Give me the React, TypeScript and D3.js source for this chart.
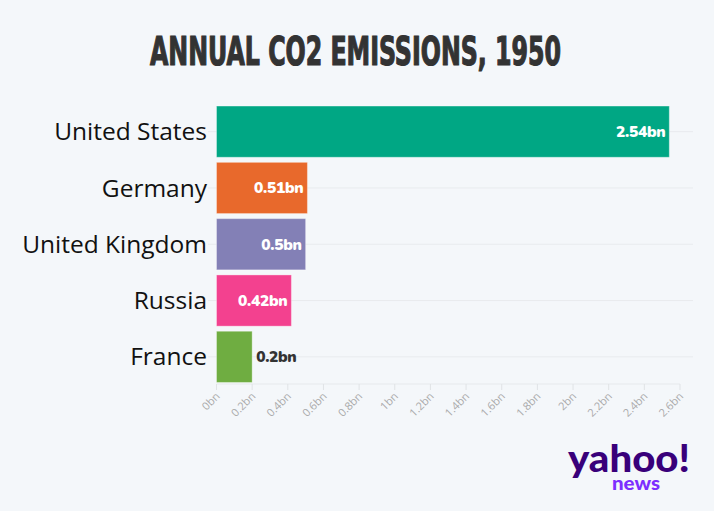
import React from "react";
import * as d3 from "d3";

const countries = ["United States", "Germany", "United Kingdom", "Russia", "France"];
const values = [2.54, 0.51, 0.5, 0.42, 0.2];
const valueLabels = ["2.54bn", "0.51bn", "0.5bn", "0.42bn", "0.2bn"];
const colors = ["#00a784", "#e8692c", "#8380b6", "#f3418f", "#6fad41"];
const ticks = [0, 0.2, 0.4, 0.6, 0.8, 1, 1.2, 1.4, 1.6, 1.8, 2, 2.2, 2.4, 2.6];
const tickLabels = ["0bn", "0.2bn", "0.4bn", "0.6bn", "0.8bn", "1bn", "1.2bn", "1.4bn", "1.6bn", "1.8bn", "2bn", "2.2bn", "2.4bn", "2.6bn"];
const title = "ANNUAL CO2 EMISSIONS, 1950";

export default function App() {
  const W = 714, H = 511;
  const x = d3.scaleLinear().domain([0, 2.6]).range([216.5, 680]);
  const y = d3.scaleBand<string>().domain(countries).range([103.5, 385]).paddingInner(0.09).paddingOuter(0.045);
  const bw = y.bandwidth();
  return (
    <div style={{ position: "fixed", left: 0, top: 0, width: W, height: H, background: "#f4f7fa" }}>
      <svg width={W} height={H} style={{ display: "block" }}>
        <rect width={W} height={H} fill="#f4f7fa" />
        <text x={150} y={65} fontFamily="'Liberation Sans Narrow', 'DejaVu Sans Condensed', sans-serif" fontWeight="bold" fontSize={39} fill="#333" stroke="#333" strokeWidth={1.2} textLength={411} lengthAdjust="spacingAndGlyphs">{title}</text>
        {countries.map((c) => (
          <line key={"g" + c} x1={208} x2={693} y1={(y(c) as number) + bw / 2} y2={(y(c) as number) + bw / 2} stroke="#e8ebee" strokeWidth={1} />
        ))}
        <line x1={x(0)} x2={x(2.6)} y1={384} y2={384} stroke="#e6e9ec" />
        {ticks.map((t, i) => (
          <g key={"t" + i}>
            <line x1={x(t)} x2={x(t)} y1={384} y2={390} stroke="#e0e3e6" />
            <text transform={`translate(${x(t) + 4},${397}) rotate(-45)`} textAnchor="end" fontFamily="'Open Sans', sans-serif" fontSize={11} fill="#aaa">{tickLabels[i]}</text>
          </g>
        ))}
        {countries.map((c, i) => {
          const y0 = y(c) as number;
          const wbar = x(values[i]) - x(0);
          const inside = wbar > 60;
          return (
            <g key={c}>
              <rect x={x(0)} y={y0} width={wbar} height={bw} fill={colors[i]} stroke="rgba(255,255,255,0.35)" strokeWidth={1} />
              <text x={207} y={y0 + bw / 2} dy="0.35em" textAnchor="end" fontFamily="'Open Sans', sans-serif" fontSize={24.5} fill="#111">{c}</text>
              {inside ? (
                <text x={x(values[i]) - 4} y={y0 + bw / 2} dy="0.35em" textAnchor="end" fontFamily="'Nunito', 'Lato', 'Open Sans', sans-serif" fontWeight={900} fontSize={15.5} fill="#fff" stroke={colors[i]} strokeWidth={3} paintOrder="stroke" style={{ letterSpacing: "-0.3px" }}>{valueLabels[i]}</text>
              ) : (
                <text x={x(values[i]) + 4} y={y0 + bw / 2} dy="0.35em" textAnchor="start" fontFamily="'Nunito', 'Lato', 'Open Sans', sans-serif" fontWeight={900} fontSize={15.5} fill="#333" style={{ letterSpacing: "-0.3px" }}>{valueLabels[i]}</text>
              )}
            </g>
          );
        })}
        <text x={568} y={472} fontFamily="'Lato', 'Open Sans', sans-serif" fontWeight={900} fontSize={38} fill="#39007a" textLength={122} lengthAdjust="spacingAndGlyphs">yahoo!</text>
        <text x={612} y={490} fontFamily="'Lato', 'Open Sans', sans-serif" fontWeight={900} fontSize={19} fill="#7d2eff" textLength={48} lengthAdjust="spacingAndGlyphs">news</text>
      </svg>
    </div>
  );
}
